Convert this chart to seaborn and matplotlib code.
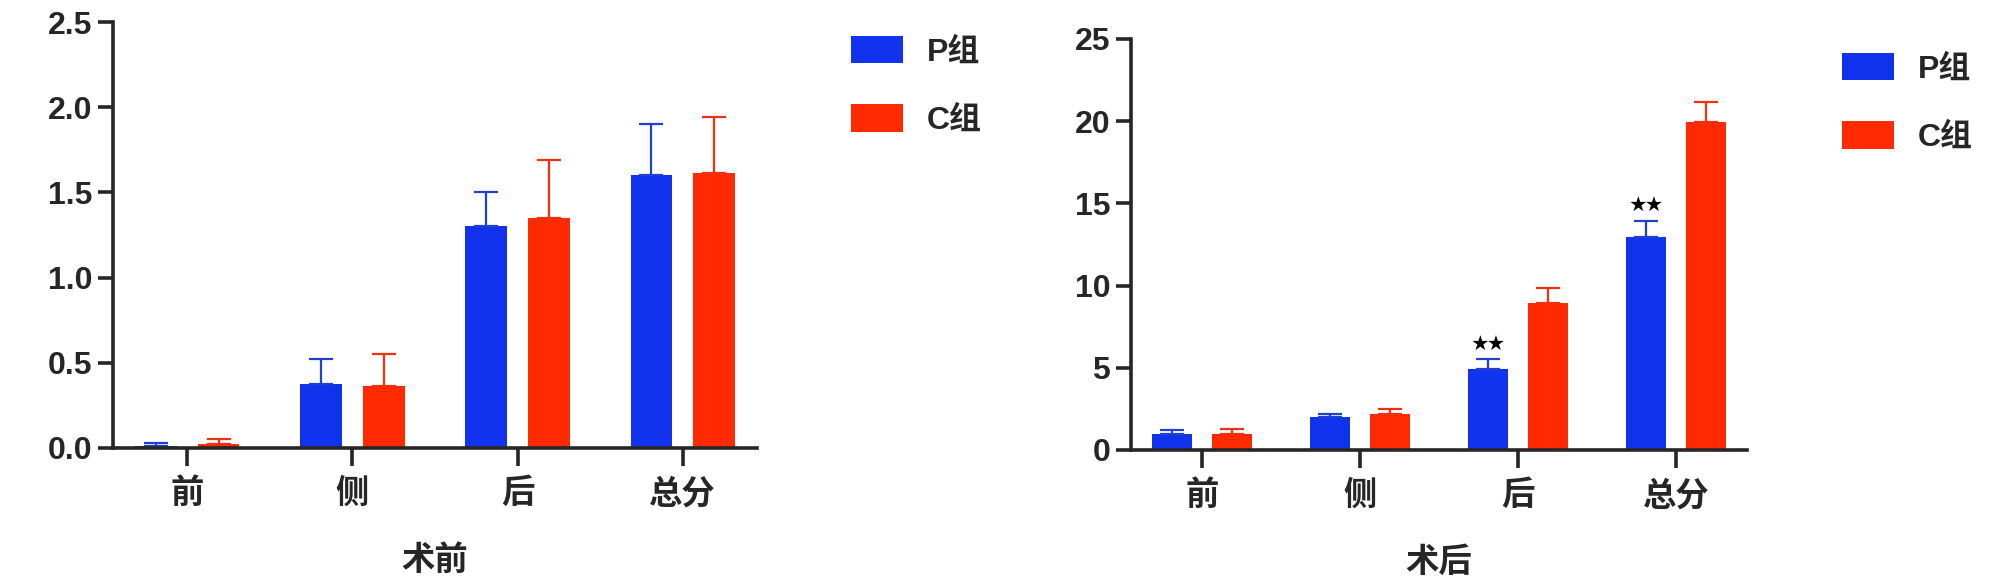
import numpy as np
import pandas as pd
import matplotlib
matplotlib.use('Agg')
import matplotlib.pyplot as plt
import seaborn as sns

categories = ['前', '侧', '后', '总分']
groups = ['P组', 'C组']

pre_p = [0.012, 0.375, 1.30, 1.60]
pre_p_sd = [0.015, 0.15, 0.20, 0.30]
pre_c = [0.024, 0.365, 1.35, 1.615]
pre_c_sd = [0.026, 0.185, 0.34, 0.325]

post_p = [1.0, 2.0, 4.95, 12.95]
post_p_sd = [0.22, 0.2, 0.57, 1.0]
post_c = [0.97, 2.2, 8.95, 19.95]
post_c_sd = [0.3, 0.3, 0.9, 1.2]

# ★★ over P group bars (post-op)
post_marks = ['', '', '★★', '★★']

bar_colors = ['#1133EE', '#FF2A00']
err_colors = ['#2040D0', '#F03010']

sns.set_style('ticks')
plt.rcParams['font.family'] = ['Liberation Sans', 'Noto Sans CJK SC', 'DejaVu Sans']
plt.rcParams['font.weight'] = 'bold'
plt.rcParams['axes.linewidth'] = 2.6
plt.rcParams['xtick.major.width'] = 2.6
plt.rcParams['ytick.major.width'] = 2.6


def make_df(p, c):
    return pd.DataFrame({
        'cat': categories * 2,
        'group': [groups[0]] * 4 + [groups[1]] * 4,
        'val': list(p) + list(c),
    })


def draw(ax, p, p_sd, c, c_sd, ylim, yticks, yfmt, xlabel, legend_xy):
    df = make_df(p, c)
    sns.barplot(data=df, x='cat', y='val', hue='group', palette=bar_colors,
                width=0.76, gap=0.34, errorbar=None, saturation=1,
                linewidth=0, ax=ax)
    for cont, vals, sds, ec in zip(ax.containers, [p, c], [p_sd, c_sd], err_colors):
        xs = [b.get_x() + b.get_width() / 2 for b in cont]
        ax.errorbar(xs, vals, yerr=[np.zeros(len(sds)), sds], fmt='none',
                    ecolor=ec, elinewidth=1.6, capsize=8.5, capthick=1.6, zorder=1)
    ax.set_ylim(*ylim)
    ax.set_xlim(-0.45, 3.45)
    ax.set_yticks(yticks)
    ax.set_yticklabels([yfmt.format(v) for v in yticks])
    ax.tick_params(axis='y', length=11, pad=4, labelsize=23)
    ax.tick_params(axis='x', length=13, pad=9, labelsize=24)
    ax.set_xlabel(xlabel, fontsize=24, fontweight='bold', labelpad=25)
    ax.set_ylabel('')
    sns.despine(ax=ax)
    handles, labels = ax.get_legend_handles_labels()
    ax.legend(handles, labels, loc='upper left', bbox_to_anchor=legend_xy,
              bbox_transform=ax.figure.transFigure, frameon=False,
              fontsize=23, handlelength=1.63, handleheight=0.94,
              handletextpad=0.75, labelspacing=1.15, borderpad=0, borderaxespad=0)


fig = plt.figure(figsize=(20, 5.87), dpi=100)
fig.patch.set_facecolor('white')
ax1 = fig.add_axes([0.0565, 0.2368, 0.322, 0.7257])
ax2 = fig.add_axes([0.5655, 0.2334, 0.308, 0.7002])

draw(ax1, pre_p, pre_p_sd, pre_c, pre_c_sd, (0, 2.5), [0, 0.5, 1.0, 1.5, 2.0, 2.5],
     '{:.1f}', '术前', (0.4255, 1 - 36 / 587))
draw(ax2, post_p, post_p_sd, post_c, post_c_sd, (0, 25), [0, 5, 10, 15, 20, 25],
     '{:.0f}', '术后', (0.921, 1 - 53 / 587))

for b, v, s, m in zip(ax2.containers[0], post_p, post_p_sd, post_marks):
    if m:
        ax2.text(b.get_x() + b.get_width() / 2, v + s + 0.9, m, ha='center',
                 va='center', fontsize=12, color='black')

fig.savefig('out.png', dpi=100, facecolor='white')
